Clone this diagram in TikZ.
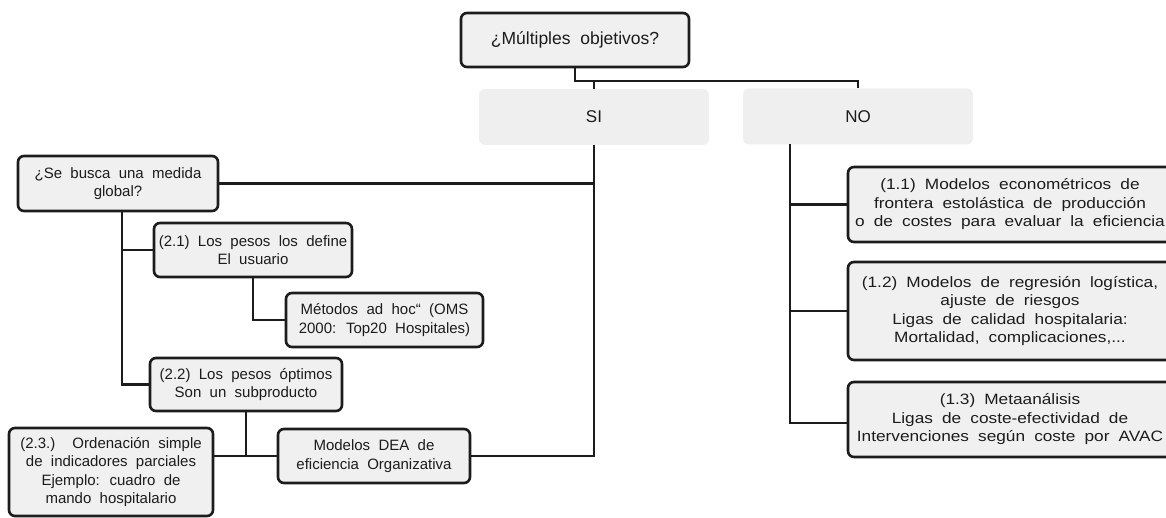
\documentclass[tikz,border=0pt]{standalone}
\usepackage{fontspec}
\setmainfont[WordSpace=2]{Liberation Sans}
\newfontfamily\widefont[FakeStretch=1.15,WordSpace=1.9]{Liberation Sans}
\usetikzlibrary{calc}
\definecolor{boxfill}{HTML}{F0F0F0}
\definecolor{lblfill}{HTML}{EFEFEF}
\definecolor{ink}{HTML}{1C1C1C}
\tikzset{
  box/.style={draw=ink, line width=2.6pt, fill=boxfill, rounded corners=6pt,
    inner sep=0pt, align=center, text=ink,
    font=\fontsize{15}{18.5}\selectfont},
  widebox/.style={box, font=\widefont\fontsize{15}{18.5}\selectfont},
  lbl/.style={fill=lblfill, rounded corners=6pt, inner sep=0pt, text=ink,
    minimum width=230pt, minimum height=56pt, font=\fontsize{17}{20}\selectfont},
  conn/.style={draw=ink, line width=2.4pt},
}
\begin{document}
\begin{tikzpicture}[x=1pt,y=-1pt]
\useasboundingbox (0,0) rectangle (1166,518);
\clip (0,0) rectangle (1166,518);
% labels SI / NO (behind lines)
\node[lbl] (si) at (594,117) {SI};
\node[lbl] (no) at (858,116.5) {NO};
% boxes
\node[box, minimum width=228pt, minimum height=54pt, font=\fontsize{17.5}{21}\selectfont] (top) at (575,40) {¿Múltiples\ objetivos?};
\node[box, minimum width=200pt, minimum height=55pt] (glob) at (118,183.5) {¿Se busca una medida\\global?};
\node[box, minimum width=198pt, minimum height=54pt] (b21) at (253,250) {(2.1) Los pesos los define\\El usuario};
\node[box, minimum width=197pt, minimum height=54pt] (met) at (384.5,320) {Métodos ad hoc“ (OMS\\2000: Top20 Hospitales)};
\node[box, minimum width=192pt, minimum height=53pt] (b22) at (246,384.5) {(2.2) Los pesos óptimos\\Son un subproducto};
\node[box, minimum width=204pt, minimum height=88pt] (b23) at (111,472) {(2.3.)\hspace{0.5em} Ordenación simple\\de indicadores parciales\\Ejemplo: cuadro de\\mando hospitalario};
\node[box, minimum width=192pt, minimum height=54pt] (dea) at (374,456) {Modelos DEA de\\eficiencia Organizativa};
\node[widebox, minimum width=324pt, minimum height=75pt] (b11) at (1010,204.5) {(1.1) Modelos econométricos de\\frontera estolástica de producción\\o de costes para evaluar la eficiencia};
\node[widebox, minimum width=324pt, minimum height=98pt] (b12) at (1010,311) {(1.2) Modelos de regresión logística,\\ajuste de riesgos\\Ligas de calidad hospitalaria:\\Mortalidad, complicaciones,...};
\node[widebox, minimum width=324pt, minimum height=75pt] (b13) at (1010,419.5) {(1.3) Metaanálisis\\Ligas de coste-efectividad de\\Intervenciones según coste por AVAC};
% connectors
\coordinate (j1) at (575,81);
\draw[conn] (top.south) -- (j1) -| (no.north);
\draw[conn] (si.north) -- (si.north |- j1);
\draw[conn] (si.south) |- (dea.east);
\draw[conn] (glob.east) -- (glob.east -| si.south);
% NO branch
\coordinate (nv) at (790,144.5);
\coordinate (nb) at (790,423);
\draw[conn] (nv) -- (nb) -- (b13.west |- nb);
\draw[conn] (b11.west) -- (b11.west -| nv);
\draw[conn] (b12.west) -- (b12.west -| nv);
% glob branch
\coordinate (gv) at (122,211);
\draw[conn] (gv) |- (b22.west);
\draw[conn] (b21.west) -- (b21.west -| gv);
\draw[conn] (b21.south) |- (met.west);
\draw[conn] (b22.south) -- (b22.south |- dea.west);
\draw[conn] (dea.west) -- (dea.west -| b23.east);
\end{tikzpicture}
\end{document}
